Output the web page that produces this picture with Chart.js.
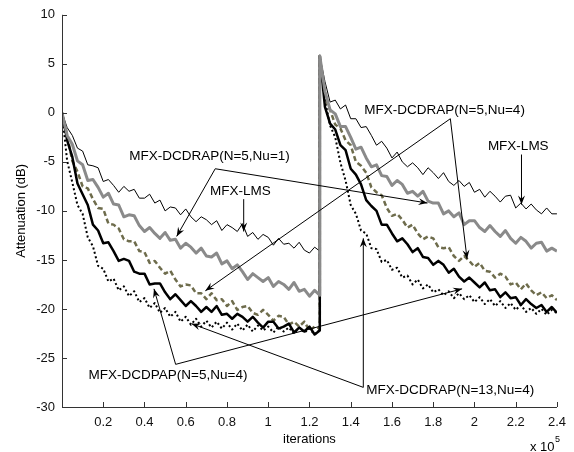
<!DOCTYPE html>
<html>
<head>
<meta charset="utf-8">
<script src="https://cdn.jsdelivr.net/npm/chart.js@4.4.1/dist/chart.umd.min.js"></script>
<style>
  html, body { margin: 0; padding: 0; background: #fff; }
  #chart { display: block; }
</style>
</head>
<body>
<canvas id="chart" width="574" height="452"></canvas>
<script>
// iterations are in units of 1e5, one sample every 2500 iterations
const leftX = Array.from({ length: 51 }, (_, i) => +(i * 0.025).toFixed(3));
const rightX = Array.from({ length: 47 }, (_, i) => +(1.25 + i * 0.025).toFixed(3));

const xTicks = [0.2, 0.4, 0.6, 0.8, 1, 1.2, 1.4, 1.6, 1.8, 2, 2.2, 2.4];
const yTicks = [-30, -25, -20, -15, -10, -5, 0, 5, 10];

// MFX-LMS
const lmsLeft = [0, -1.5, -2.3, -3.6, -3.9, -5.3, -5.4, -5.6, -7.0, -6.8, -7.4, -8.1, -7.5, -8.0, -7.8, -8.7, -8.7,
  -8.3, -9.2, -8.9, -10.0, -9.6, -9.7, -10.4, -9.8, -10.6, -11.1, -10.6, -10.9, -11.4, -11.0, -12.0, -11.4, -11.7,
  -12.1, -11.3, -12.6, -12.2, -12.9, -12.4, -12.7, -13.5, -12.8, -13.4, -13.3, -13.8, -13.2, -14.0, -14.3, -13.7, -14.1];
const lmsRight = [5.8, 3.2, 1.1, 1.3, 0.4, 0.8, -0.6, -0.6, -1.5, -1.4, -2.3, -3.3, -2.9, -3.6, -4.6, -4.0, -5.0,
  -5.5, -5.1, -5.6, -6.3, -5.6, -6.1, -6.7, -6.1, -7.0, -7.4, -6.9, -7.5, -7.1, -8.1, -7.8, -8.6, -8.0, -8.5, -9.1,
  -8.5, -8.4, -9.7, -9.2, -9.8, -9.3, -9.9, -10.3, -9.7, -10.3, -10.3];

// MFX-DCDRAP(N=5,Nu=1)
const rap51Left = [0, -2.3, -3.2, -4.9, -5.3, -6.9, -6.8, -7.6, -8.6, -8.2, -9.3, -9.4, -10.6, -10.4, -10.5, -11.5,
  -12.1, -11.7, -12.3, -12.8, -12.2, -13.0, -12.9, -13.8, -13.3, -13.7, -14.3, -13.8, -14.6, -14.7, -14.3, -15.4,
  -15.1, -15.9, -15.5, -16.2, -17.0, -16.4, -16.8, -17.2, -16.8, -17.7, -17.2, -17.5, -18.0, -17.3, -18.2, -18.0,
  -18.7, -18.1, -18.6];
const rap51Right = [5.8, 2.2, 0.3, -0.1, -1.4, -1.4, -2.5, -3.7, -3.5, -4.6, -5.5, -5.3, -6.4, -6.5, -7.4, -6.9,
  -7.3, -8.2, -8.0, -8.5, -8.0, -9.0, -9.2, -9.2, -10.3, -10.0, -10.6, -10.2, -11.4, -11.0, -11.0, -11.7, -12.1,
  -11.5, -12.1, -12.6, -12.0, -12.8, -13.3, -12.7, -13.1, -13.8, -13.3, -13.2, -14.1, -13.8, -14.1];

// MFX-DCDRAP(N=5,Nu=4)
const rap54Left = [0, -2.3, -4.9, -6.0, -7.5, -7.7, -8.8, -9.7, -9.8, -11.3, -11.4, -11.8, -12.9, -13.1, -13.1,
  -14.1, -14.2, -15.3, -15.1, -15.8, -16.4, -16.1, -17.0, -17.7, -17.5, -17.6, -18.4, -18.4, -19.0, -18.4, -19.1,
  -19.0, -19.7, -19.2, -20.1, -19.8, -19.7, -20.4, -20.6, -20.1, -20.6, -21.2, -20.7, -20.8, -21.6, -21.3, -21.8,
  -21.3, -22.2, -21.8, -22.0];
const rap54Right = [5.8, 1.6, 0.3, -1.2, -1.6, -2.8, -3.3, -5.0, -5.4, -6.1, -7.6, -8.1, -8.4, -9.7, -10.5, -10.3,
  -10.9, -11.7, -11.4, -12.3, -12.9, -12.6, -12.8, -13.7, -13.8, -13.7, -14.6, -15.1, -14.6, -15.1, -15.7, -15.3,
  -16.1, -16.2, -16.8, -16.4, -16.7, -17.5, -17.3, -18.0, -17.4, -18.1, -18.6, -18.3, -18.9, -18.6, -19.1];

// MFX-DCDPAP(N=5,Nu=4)
const pap54Left = [0, -2.8, -4.5, -7.2, -8.3, -9.4, -11.4, -12.0, -13.3, -13.2, -14.1, -15.1, -14.9, -15.1, -16.2,
  -16.4, -16.4, -17.5, -17.4, -17.4, -18.3, -19.0, -18.5, -19.1, -19.7, -19.2, -19.7, -20.3, -19.8, -20.3, -19.7,
  -20.6, -20.5, -21.0, -20.5, -20.8, -21.3, -20.8, -21.4, -21.9, -21.3, -21.3, -22.0, -21.8, -21.5, -22.4, -21.9,
  -22.3, -21.8, -22.6, -22.2];
const pap54Right = [5.8, 0.6, -1.1, -1.7, -3.3, -3.8, -5.7, -6.3, -7.3, -8.9, -9.5, -10.0, -11.4, -11.4, -12.3,
  -13.1, -12.8, -13.4, -14.2, -13.8, -14.7, -14.8, -15.5, -15.1, -15.5, -16.3, -15.9, -16.7, -17.2, -16.8, -17.3,
  -17.8, -17.3, -18.1, -18.0, -18.8, -18.3, -18.9, -18.8, -19.6, -19.0, -19.5, -19.9, -19.6, -20.3, -19.8, -20.4];

// MFX-DCDRAP(N=13,Nu=4)
const rap134Left = [0, -4.9, -7.1, -9.4, -10.3, -12.7, -13.6, -15.6, -15.9, -17.2, -16.9, -18.1, -17.7, -18.7,
  -18.2, -19.3, -18.9, -19.9, -19.4, -20.4, -19.9, -20.8, -20.3, -21.3, -20.8, -21.6, -21.0, -21.8, -21.2, -21.9,
  -21.3, -22.0, -21.4, -22.1, -21.5, -22.2, -21.6, -22.3, -21.7, -22.2, -21.8, -22.4, -21.8, -22.3, -21.9, -22.5,
  -21.9, -22.4, -22.0, -22.6, -22.1];
const rap134Right = [5.8, 1.3, -1.3, -2.5, -5.1, -6.9, -9.4, -10.3, -12.0, -12.3, -13.8, -13.9, -15.2, -15.0, -16.0,
  -15.8, -16.8, -16.6, -17.5, -17.0, -17.9, -17.5, -18.3, -18.0, -18.6, -18.2, -18.9, -18.4, -19.0, -18.6, -19.3,
  -18.8, -19.5, -19.0, -19.7, -19.2, -19.9, -19.4, -20.1, -19.6, -20.3, -19.9, -20.5, -20.0, -20.6, -20.1, -20.4];

// callouts: text anchor (left, middle), hub where the leaders start, arrow tips (all in data units)
const notes = [
  { text: 'MFX-DCDRAP(N=5,Nu=1)', at: [0.326, -4.45], hub: [0.743, -5.7], tips: [[0.556, -12.6], [1.772, -9.2]] },
  { text: 'MFX-LMS', at: [0.718, -8.0], hub: [0.881, -8.8], tips: [[0.881, -12.1]] },
  { text: 'MFX-DCDRAP(N=5,Nu=4)', at: [1.466, 0.3], hub: [1.883, -0.6], tips: [[1.964, -14.9], [0.695, -18.15]] },
  { text: 'MFX-LMS', at: [2.065, -3.45], hub: [2.228, -4.25], tips: [[2.228, -9.35]] },
  { text: 'MFX-DCDPAP(N=5,Nu=4)', at: [0.129, -26.75], hub: [0.551, -25.65], tips: [[0.446, -17.95], [1.94, -17.95]] },
  { text: 'MFX-DCDRAP(N=13,Nu=4)', at: [1.475, -28.3], hub: [1.461, -28.0], tips: [[1.461, -12.8], [0.628, -21.5]] }
];

function pts(left, right) {
  return leftX.map((x, i) => ({ x: x, y: left[i] })).concat(rightX.map((x, i) => ({ x: x, y: right[i] })));
}

const FONT = '"Liberation Sans", Arial, Helvetica, sans-serif';

function arrowHead(ctx, x0, y0, x1, y1) {
  const a = Math.atan2(y1 - y0, x1 - x0);
  const len = 9, w = 3.5;
  ctx.save();
  ctx.translate(x1, y1);
  ctx.rotate(a);
  ctx.beginPath();
  ctx.moveTo(0, 0);
  ctx.lineTo(-len, -w);
  ctx.lineTo(-len * 0.65, 0);
  ctx.lineTo(-len, w);
  ctx.closePath();
  ctx.fill();
  ctx.restore();
}

const matlabAxes = {
  id: 'matlabAxes',
  afterDatasetsDraw(chart) {
    const { ctx, chartArea: ca, scales: { x, y } } = chart;
    ctx.save();
    // axis lines with inward ticks
    ctx.strokeStyle = '#333';
    ctx.lineWidth = 1;
    ctx.beginPath();
    ctx.moveTo(ca.left + 0.5, ca.top);
    ctx.lineTo(ca.left + 0.5, ca.bottom + 0.5);
    ctx.lineTo(ca.right, ca.bottom + 0.5);
    xTicks.forEach(v => {
      const px = Math.round(x.getPixelForValue(v)) + 0.5;
      ctx.moveTo(px, ca.bottom);
      ctx.lineTo(px, ca.bottom - 5);
    });
    yTicks.forEach(v => {
      const py = Math.round(y.getPixelForValue(v)) + 0.5;
      ctx.moveTo(ca.left, py);
      ctx.lineTo(ca.left + 5, py);
    });
    ctx.stroke();

    // callouts
    ctx.strokeStyle = '#000';
    ctx.fillStyle = '#000';
    ctx.lineWidth = 1;
    ctx.font = '13.5px ' + FONT;
    ctx.textBaseline = 'middle';
    ctx.textAlign = 'left';
    notes.forEach(n => {
      const hx = x.getPixelForValue(n.hub[0]), hy = y.getPixelForValue(n.hub[1]);
      n.tips.forEach(t => {
        const tx = x.getPixelForValue(t[0]), ty = y.getPixelForValue(t[1]);
        ctx.beginPath();
        ctx.moveTo(hx, hy);
        ctx.lineTo(tx, ty);
        ctx.stroke();
        arrowHead(ctx, hx, hy, tx, ty);
      });
      ctx.fillText(n.text, x.getPixelForValue(n.at[0]), y.getPixelForValue(n.at[1]));
    });

    // axis titles
    ctx.font = '13px ' + FONT;
    ctx.textAlign = 'center';
    ctx.fillText('iterations', (ca.left + ca.right) / 2, 439);
    ctx.textAlign = 'left';
    ctx.fillText('x 10', 530, 447);
    ctx.font = '9px ' + FONT;
    ctx.fillText('5', 555, 440);
    ctx.font = '13px ' + FONT;
    ctx.translate(21, (ca.top + ca.bottom) / 2);
    ctx.rotate(-Math.PI / 2);
    ctx.textAlign = 'center';
    ctx.fillText('Attenuation (dB)', 0, 0);
    ctx.restore();
  }
};

Chart.defaults.font.family = FONT;
Chart.defaults.font.size = 13;
Chart.defaults.color = '#111';

new Chart(document.getElementById('chart'), {
  type: 'line',
  data: {
    datasets: [
      { label: 'MFX-DCDRAP(N=5,Nu=1)', data: pts(rap51Left, rap51Right), borderColor: '#8a8a8a', borderWidth: 3, order: 0 },
      { label: 'MFX-LMS', data: pts(lmsLeft, lmsRight), borderColor: '#000', borderWidth: 1, order: 1 },
      { label: 'MFX-DCDPAP(N=5,Nu=4)', data: pts(pap54Left, pap54Right), borderColor: '#000', borderWidth: 2.5, order: 2 },
      { label: 'MFX-DCDRAP(N=5,Nu=4)', data: pts(rap54Left, rap54Right), borderColor: '#6e6c4c', borderWidth: 2.5, borderDash: [5, 3], order: 3 },
      { label: 'MFX-DCDRAP(N=13,Nu=4)', data: pts(rap134Left, rap134Right), borderColor: '#000', borderWidth: 2, borderDash: [2, 2.5], order: 4 }
    ]
  },
  options: {
    responsive: false,
    animation: false,
    events: [],
    layout: { padding: { top: 13, right: 11, left: 0, bottom: 0 } },
    elements: {
      point: { radius: 0 },
      line: { tension: 0, borderJoinStyle: 'round', fill: false }
    },
    plugins: {
      legend: { display: false },
      tooltip: { enabled: false }
    },
    scales: {
      x: {
        type: 'linear',
        min: 0,
        max: 2.4,
        grid: { display: false, drawTicks: false },
        border: { display: false },
        afterBuildTicks: s => { s.ticks = xTicks.map(v => ({ value: v })); },
        afterFit: s => { s.height = 45; },
        ticks: { padding: 8, maxRotation: 0, autoSkip: false, callback: v => String(v) }
      },
      y: {
        min: -30,
        max: 10,
        grid: { display: false, drawTicks: false },
        border: { display: false },
        afterBuildTicks: s => { s.ticks = yTicks.map(v => ({ value: v })); },
        afterFit: s => { s.width = 62; },
        ticks: { padding: 7, callback: v => String(v) }
      }
    }
  },
  plugins: [matlabAxes]
});
</script>
</body>
</html>
